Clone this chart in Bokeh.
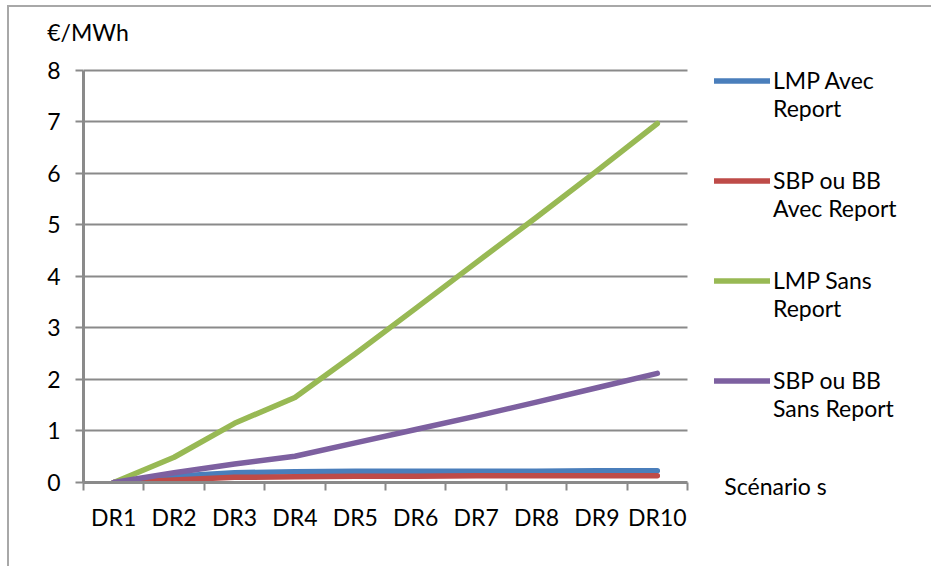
import numpy as np
from bokeh.plotting import figure
from bokeh.models import (Range1d, FixedTicker, Legend, LegendItem, Label)
from bokeh.embed import file_html
from bokeh.resources import INLINE

categories = ["DR1", "DR2", "DR3", "DR4", "DR5", "DR6", "DR7", "DR8", "DR9", "DR10"]
lmp_avec = [0.0, 0.12, 0.19, 0.21, 0.22, 0.22, 0.22, 0.22, 0.23, 0.23]
sbp_avec = [0.0, 0.05, 0.10, 0.11, 0.12, 0.12, 0.13, 0.13, 0.13, 0.13]
lmp_sans = [0.0, 0.49, 1.15, 1.65, 2.50, 3.38, 4.27, 5.15, 6.05, 6.97]
sbp_sans = [0.0, 0.19, 0.36, 0.51, 0.77, 1.03, 1.29, 1.56, 1.84, 2.12]
y_ticks = [0, 1, 2, 3, 4, 5, 6, 7, 8]
series_names = [["LMP Avec", "Report"], ["SBP ou BB", "Avec Report"],
                ["LMP Sans", "Report"], ["SBP ou BB", "Sans Report"]]
colors = ["#4a7ebb", "#be4b48", "#98b954", "#7d60a0"]
y_title = "€/MWh"
x_title = "Scénario s"

FONT = "Lato"
FS = "23px"
GRID = "#8a8a8a"

n = len(categories)
y_max = y_ticks[-1]
x = np.arange(n) + 0.5
# the frame extends right of and above the plotted area so that the legend lies inside it
X_END = 13.94
Y_END = 8.621

p = figure(width=924, height=561, output_backend="svg", toolbar_location=None,
           x_range=Range1d(0, X_END), y_range=Range1d(0, Y_END),
           min_border_left=74, min_border_right=8, min_border_top=31, min_border_bottom=86)
p.styles = {"margin-left": "7px", "margin-top": "5px",
            "border-left": "2px solid #a8a8a8", "border-top": "2px solid #a8a8a8"}
p.outline_line_color = None
p.background_fill_color = "white"
p.border_fill_color = "white"

p.xgrid.visible = False
p.ygrid.grid_line_color = GRID
p.ygrid.grid_line_width = 2
p.ygrid.ticker = FixedTicker(ticks=y_ticks)
p.ygrid.cross_bounds = (0, n)

p.yaxis.bounds = (0, y_max)
p.yaxis.ticker = FixedTicker(ticks=y_ticks)
p.yaxis.axis_line_color = GRID
p.yaxis.axis_line_width = 3
p.yaxis.major_tick_line_color = GRID
p.yaxis.major_tick_line_width = 2
p.yaxis.major_tick_out = 8
p.yaxis.major_tick_in = 0
p.yaxis.minor_tick_line_color = None
p.yaxis.major_label_text_font = FONT
p.yaxis.major_label_text_font_size = FS
p.yaxis.major_label_text_color = "black"
p.yaxis.major_label_standoff = 15

p.xaxis.bounds = (0, n)
p.xaxis.ticker = FixedTicker(ticks=list(x), minor_ticks=list(range(n + 1)))
p.xaxis.major_label_overrides = {float(v): c for v, c in zip(x, categories)}
p.xaxis.axis_line_color = GRID
p.xaxis.axis_line_width = 3
p.xaxis.major_tick_line_color = None
p.xaxis.minor_tick_line_color = GRID
p.xaxis.minor_tick_line_width = 2
p.xaxis.minor_tick_out = 8
p.xaxis.minor_tick_in = 0
p.xaxis.major_label_text_font = FONT
p.xaxis.major_label_text_font_size = FS
p.xaxis.major_label_text_color = "black"
p.xaxis.major_label_standoff = 12

renderers = []
for ys, c in zip([lmp_avec, sbp_avec, lmp_sans, sbp_sans], colors):
    r = p.line(x, ys, line_color=c, line_width=5.5, line_cap="round", line_join="round")
    renderers.append(r)

# leading blank line so that the sample line sits beside the first text line
items = [LegendItem(label="\n" + "\n".join(nm), renderers=[r]) for nm, r in zip(series_names, renderers)]
legend = Legend(items=items, location=(631, 60), padding=0, margin=0,
                border_line_color=None, background_fill_alpha=0,
                glyph_width=56, glyph_height=25, label_standoff=3, spacing=16,
                label_text_font=FONT, label_text_font_size=FS, label_text_color="black")
p.add_layout(legend, "center")

p.add_layout(Label(x=-0.6, y=8.74, text=y_title, text_font=FONT, text_font_size=FS,
                   text_baseline="middle", text_align="left", text_color="black"), "above")
p.add_layout(Label(x=10.61, y=-0.06, text=x_title, text_font=FONT, text_font_size=FS,
                   text_baseline="middle", text_align="left", text_color="black"), "below")

open("out.html", "w").write(file_html(p, INLINE))
